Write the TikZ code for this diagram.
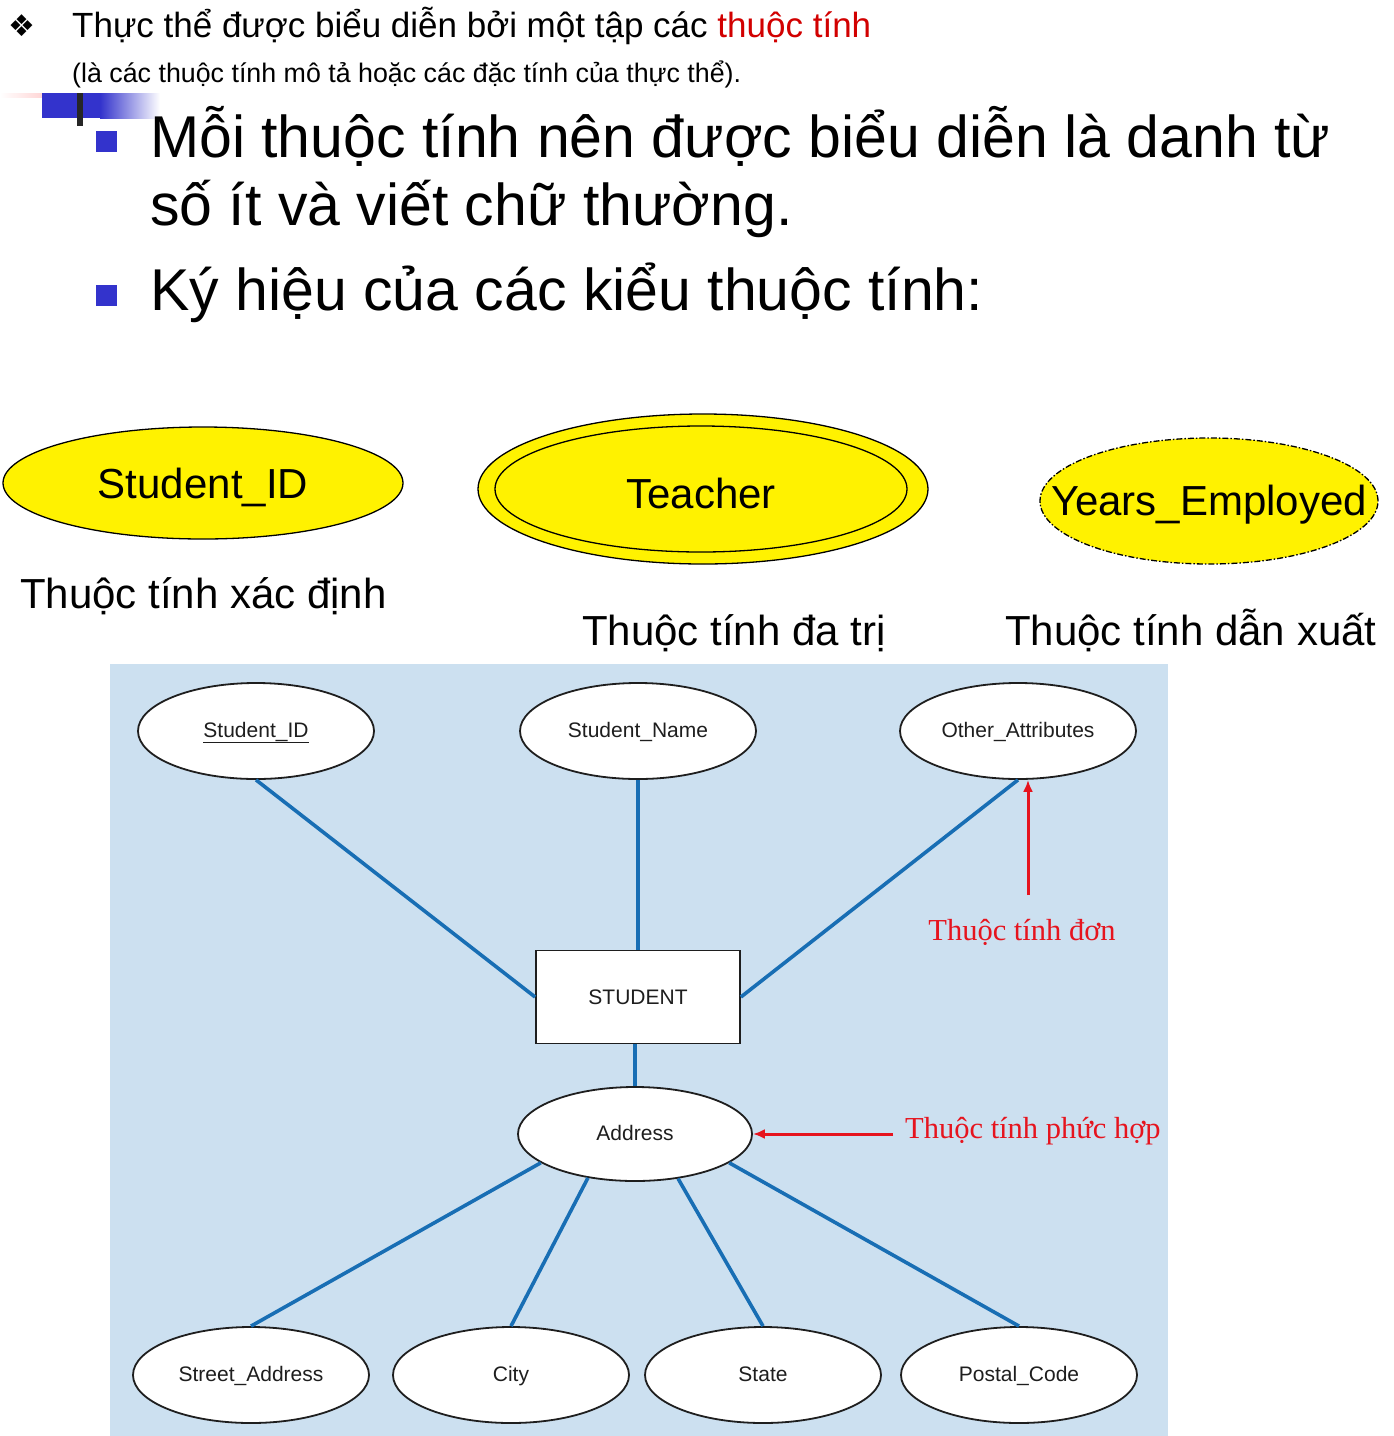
\documentclass[tikz,border=0pt]{standalone}
\usepackage{fontspec}
\setmainfont{Liberation Sans}
\newfontfamily\serifface{Liberation Serif}
\newfontfamily\symface{DejaVu Sans}
\usetikzlibrary{shapes.geometric,arrows.meta}
\definecolor{erblue}{RGB}{204,224,240}
\definecolor{linkblue}{RGB}{24,110,180}
\definecolor{bulletblue}{RGB}{51,51,204}
\definecolor{notered}{RGB}{230,20,30}
\definecolor{titlered}{RGB}{210,0,0}
\definecolor{inkgray}{RGB}{30,30,30}
\begin{document}
\begin{tikzpicture}[x=1pt,y=-1pt,
  yellowshape/.style={ellipse,draw=black,line width=1.3pt,fill=yellow,inner sep=0pt},
  yellowlabel/.style={inner sep=0pt,yshift=-4pt,font=\fontsize{42}{48}\selectfont},
  erattr/.style={ellipse,draw=inkgray,line width=1.8pt,fill=white,inner sep=0pt,
    minimum width=236pt,minimum height=96pt,text=inkgray,
    text height=15pt,text depth=3pt,font=\fontsize{21}{25}\selectfont},
  erentity/.style={rectangle,draw=inkgray,line width=1.8pt,fill=white,
    minimum width=204pt,minimum height=93pt,text=inkgray,font=\fontsize{21}{25}\selectfont},
  erlink/.style={draw=linkblue,line width=3.6pt},
  notearrow/.style={draw=notered,line width=3pt,-{Latex[length=12pt,width=10pt]}},
  notetext/.style={text=notered,font=\serifface\fontsize{30.5}{34}\selectfont},
  captext/.style={anchor=base west,inner sep=0pt,font=\fontsize{42}{48}\selectfont},
  bigtext/.style={anchor=base west,inner sep=0pt,font=\fontsize{59}{68}\selectfont},
  bulletsq/.style={fill=bulletblue}]
\useasboundingbox (0,0) rectangle (1394,1436);
\fill[white] (0,0) rectangle (1394,1436);

% heading line and its note
\node[anchor=base west,inner sep=0pt,font=\symface\fontsize{30}{34}\selectfont] (dia) at (8,36) {❖};
\node[anchor=base west,font=\fontsize{35}{40}\selectfont,inner sep=0pt] (head) at (72,37)
  {Thực thể được biểu diễn bởi một tập các \textcolor{titlered}{thuộc tính}};
\node[anchor=base west,font=\fontsize{26.8}{30}\selectfont,inner sep=0pt] (sub) at (72,82)
  {(là các thuộc tính mô tả hoặc các đặc tính của thực thể).};

% slide decoration
\shade[left color=white,right color=red!25] (0,93) rectangle (66,97);
\fill[bulletblue] (42,93) rectangle (101,118);
\shade[left color=bulletblue,right color=white] (100,93) rectangle (160,118);
\fill[black!85] (77,93) rectangle (83,126);

% bullet points
\fill[bulletsq] (96,131) rectangle (117,152);
\node[bigtext] (b1) at (150,157) {Mỗi thuộc tính nên được biểu diễn là danh từ};
\node[bigtext] (b1b) at (150,225) {số ít và viết chữ thường.};
\fill[bulletsq] (96,285) rectangle (117,306);
\node[bigtext] (b2) at (150,310) {Ký hiệu của các kiểu thuộc tính:};

% attribute notations
\node[yellowshape,minimum width=400pt,minimum height=112pt] (kid) at (203,483) {};
\node[yellowlabel] (kidlabel) at (kid.center) {Student\_ID};
\node[captext] (kidcap) at (20,608) {Thuộc tính xác định};

\node[yellowshape,minimum width=450pt,minimum height=150pt] (multi) at (703,489) {};
\node[yellowshape,minimum width=412pt,minimum height=126pt] (multiin) at (701,489) {};
\node[yellowlabel] (multilabel) at (multiin.center) {Teacher};
\node[captext] (multicap) at (582,645) {Thuộc tính đa trị};

\node[yellowshape,dash pattern=on 6pt off 2pt on 1.5pt off 2pt,
  minimum width=338pt,minimum height=126pt] (derived) at (1209,501) {};
\node[yellowlabel] (derivedlabel) at (derived.center) {Years\_Employed};
\node[captext] (derivedcap) at (1005,645) {Thuộc tính dẫn xuất};

% ER diagram
\fill[erblue] (110,664) rectangle (1168,1436);

\node[erattr] (sid) at (256,731) {\underline{Student\_ID}};
\node[erattr] (sname) at (638,731) {Student\_Name};
\node[erattr] (other) at (1018,731) {Other\_Attributes};
\node[erentity] (stu) at (638,997) {STUDENT};
\node[erattr,minimum width=234pt,minimum height=94pt] (addr) at (635,1134) {Address};
\node[erattr] (street) at (251,1375) {Street\_Address};
\node[erattr] (city) at (511,1375) {City};
\node[erattr] (state) at (763,1375) {State};
\node[erattr] (postal) at (1019,1375) {Postal\_Code};

% relationship links
\draw[erlink] (sid.south) -- (stu.west);
\draw[erlink] (sname.south) -- (stu.north);
\draw[erlink] (other.south) -- (stu.east);
\draw[erlink] (stu.south -| addr.north) -- (addr.north);
\draw[erlink] (addr.197) -- (street.north);
\draw[erlink] (addr.223) -- (city.north);
\draw[erlink] (addr.314) -- (state.north);
\draw[erlink] (addr.343) -- (postal.north);

% explanatory notes
\coordinate (singlefoot) at (1028,895);
\draw[notearrow] (singlefoot) -- (singlefoot |- other.south);
\node[notetext] (singlenote) at (1022,932) {Thuộc tính đơn};
\coordinate (compfoot) at (893,1134);
\draw[notearrow] (compfoot) -- (addr.east);
\node[notetext,anchor=west,inner sep=0pt] (compnote) at (905,1131) {Thuộc tính phức hợp};
\end{tikzpicture}
\end{document}
